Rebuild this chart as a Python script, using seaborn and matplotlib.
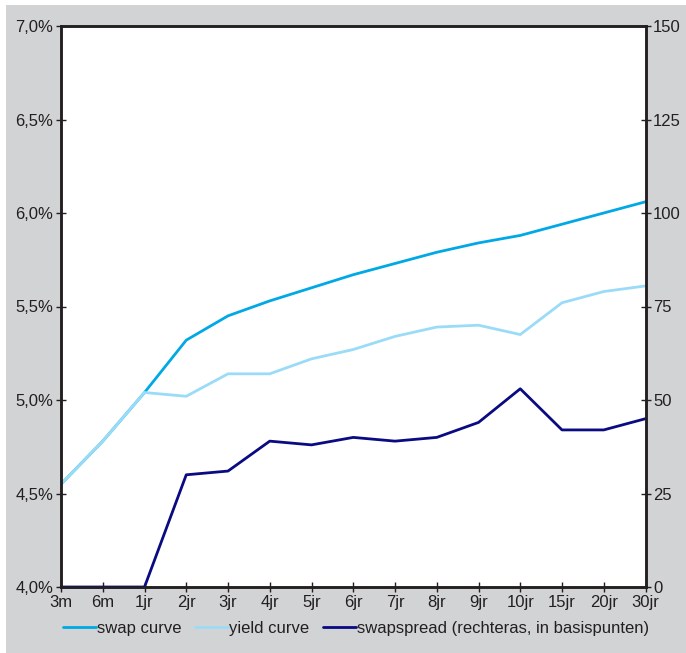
import matplotlib
matplotlib.use("Agg")
import matplotlib.pyplot as plt
import matplotlib.patches as mpatches
import matplotlib.ticker as mticker
import seaborn as sns
import pandas as pd

# Maturities on the curve
maturities = ["3m", "6m", "1jr", "2jr", "3jr", "4jr", "5jr", "6jr", "7jr",
              "8jr", "9jr", "10jr", "15jr", "20jr", "30jr"]

# Rates in percent
swap_curve = [4.55, 4.78, 5.04, 5.32, 5.45, 5.53, 5.60, 5.67, 5.73,
              5.79, 5.84, 5.88, 5.94, 6.00, 6.06]
yield_curve = [4.55, 4.78, 5.04, 5.02, 5.14, 5.14, 5.22, 5.27, 5.34,
               5.39, 5.40, 5.35, 5.52, 5.58, 5.61]

# Swap spread in basis points (right axis)
swapspread = [0, 0, 0, 30, 31, 39, 38, 40, 39, 40, 44, 53, 42, 42, 45]

left_ticks = [4.0, 4.5, 5.0, 5.5, 6.0, 6.5, 7.0]
right_ticks = [0, 25, 50, 75, 100, 125, 150]

labels = ["swap curve", "yield curve", "swapspread (rechteras, in basispunten)"]

df = pd.DataFrame({
    "looptijd": maturities,
    "swap": swap_curve,
    "yield": yield_curve,
    "spread": swapspread,
})

sns.set_style("white")
plt.rcParams["font.family"] = ["Liberation Sans", "DejaVu Sans"]
FS = 12

C_SWAP = "#00a9e6"
C_YIELD = "#9adcf7"
C_SPREAD = "#0a0a82"
C_BG = "#d2d3d5"
C_INK = "#231f20"

fig = plt.figure(figsize=(6.86, 6.53), dpi=100, facecolor="white")
fig.patches.append(mpatches.Rectangle((6 / 686, 0), 1, 1 - 5 / 653,
                                      transform=fig.transFigure,
                                      facecolor=C_BG, edgecolor="none", zorder=-10))

ax = fig.add_axes([61 / 686, 66 / 653, (645.5 - 61) / 686, (587 - 26) / 653])
ax.set_facecolor("white")
ax2 = ax.twinx()

sns.lineplot(data=df, x="looptijd", y="swap", ax=ax, color=C_SWAP, lw=2.0,
             sort=False, label=labels[0], legend=False)
sns.lineplot(data=df, x="looptijd", y="yield", ax=ax, color=C_YIELD, lw=2.0,
             sort=False, label=labels[1], legend=False)
sns.lineplot(data=df, x="looptijd", y="spread", ax=ax2, color=C_SPREAD, lw=2.0,
             sort=False, label=labels[2], legend=False, clip_on=False)

ax.set_xlim(0, len(maturities) - 1)
ax.set_ylim(left_ticks[0], left_ticks[-1])
ax2.set_ylim(right_ticks[0], right_ticks[-1])
ax.set_yticks(left_ticks)
ax2.set_yticks(right_ticks)
ax.yaxis.set_major_formatter(mticker.FuncFormatter(lambda v, p: f"{v:.1f}%".replace(".", ",")))
ax.set_xlabel("")
ax.set_ylabel("")
ax2.set_ylabel("")

for a in (ax, ax2):
    for s in a.spines.values():
        s.set_visible(True)
        s.set_color(C_INK)
        s.set_linewidth(1.8)
    a.tick_params(axis="both", direction="inout", length=7, width=1.0,
                  color=C_INK, labelcolor=C_INK, labelsize=FS)
ax.tick_params(axis="y", pad=2, left=True, right=False)
ax.tick_params(axis="x", pad=2, bottom=True)
ax2.tick_params(axis="y", pad=2, right=True, left=False)

handles = ax.get_lines()[:2] + ax2.get_lines()[:1]
fig.legend(handles, labels, loc="center left", bbox_to_anchor=(63 / 686, 1 - 628 / 653),
           ncol=3, frameon=False, handlelength=2.0, handletextpad=0.05,
           columnspacing=0.8, fontsize=FS, borderaxespad=0, borderpad=0,
           labelcolor=C_INK)

fig.savefig("out.png", dpi=100, facecolor=fig.get_facecolor())
